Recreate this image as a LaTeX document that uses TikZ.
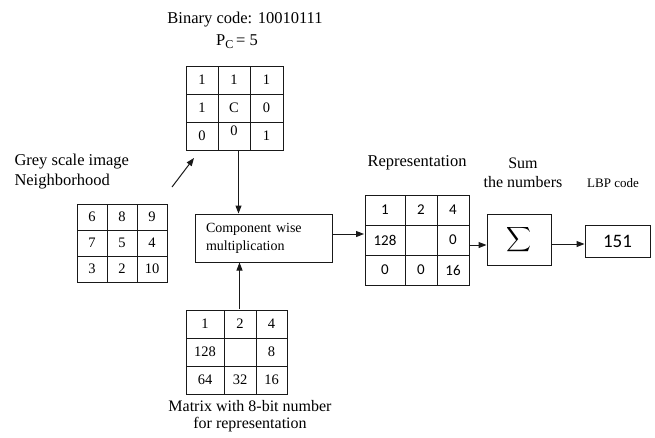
\documentclass[tikz,border=0pt]{standalone}
\usepackage{amsmath}
\usepackage{fontspec}
\setmainfont{Liberation Serif}
\newfontfamily\calfont{Carlito}
\usetikzlibrary{arrows.meta,matrix}
\definecolor{inkgrey}{RGB}{25,25,25}

\begin{document}
\begin{tikzpicture}[x=1pt, y=-1pt, line width=1pt, draw=inkgrey,
    >={Triangle[length=8pt,width=6pt]},
    lbl/.style={font=\fontsize{16.5}{20}\selectfont, inner sep=0pt, align=center},
    grid/.style={matrix of nodes, nodes in empty cells, inner sep=0pt,
      anchor=north west, column sep=-1pt, row sep=-1pt,
      nodes={draw=inkgrey, inner sep=0pt, anchor=center}},
    box/.style={draw=inkgrey, inner sep=0pt}]
    \useasboundingbox (0,0) rectangle (655,437);
    % Binary code matrix
    \node[lbl] (bincode) at (245,20) {Binary code: 10010111};
    \node[lbl] (pc) at (237,42) {P\raisebox{-3pt}{\fontsize{12}{12}\selectfont C}\,= 5};
    \matrix (topm) [grid,
      nodes={minimum height=28pt, font=\fontsize{14.5}{14.5}\selectfont},
      column 1/.style={nodes={minimum width=32pt}},
      column 2/.style={nodes={minimum width=32pt}},
      column 3/.style={nodes={minimum width=33pt}}] at (185,65) {
      1 & 1 & 1 \\
      1 & C & 0 \\
      0 & \raisebox{5pt}[\height][\depth]{0} & 1 \\
    };
    % Grey scale neighbourhood
    \node[lbl, anchor=west, align=left] (greylbl) at (14,172)
      {Grey scale image\\Neighborhood};
    \matrix (greym) [grid,
      nodes={minimum height=26pt, font=\fontsize{14.5}{14.5}\selectfont},
      column 1/.style={nodes={minimum width=30pt}},
      column 2/.style={nodes={minimum width=30pt}},
      column 3/.style={nodes={minimum width=30pt}}] at (76,203) {
      6 & 8 & 9 \\
      7 & 5 & 4 \\
      3 & 2 & 10 \\
    };
    \coordinate (dtail) at (172,187);
    \coordinate (dhead) at (194,158);
    \draw[->] (dtail) -- (dhead);
    % Component wise multiplication
    \node[box, minimum width=137pt, minimum height=48pt, text width=115pt,
      align=left, font=\fontsize{14}{18}\selectfont] (comp) at (263.5,238)
      {Component wise\\multiplication};
    % Weights matrix
    \matrix (bitm) [grid,
      nodes={minimum height=28pt, font=\fontsize{14.5}{14.5}\selectfont},
      column 1/.style={nodes={minimum width=38pt}},
      column 2/.style={nodes={minimum width=32pt}},
      column 3/.style={nodes={minimum width=31pt}}] at (185,309) {
      1 & 2 & 4 \\
      128 & & 8 \\
      64 & 32 & 16 \\
    };
    \node[lbl, font=\fontsize{16}{17}\selectfont] (bitlbl) at (250,416)
      {Matrix with 8-bit number\\for representation};
    % Representation matrix
    \node[lbl] (replbl) at (417,163) {Representation};
    \matrix (repm) [grid,
      nodes={minimum height=30pt, font=\calfont\fontsize{15}{15}\selectfont},
      column 1/.style={nodes={minimum width=40pt}},
      column 2/.style={nodes={minimum width=32pt}},
      column 3/.style={nodes={minimum width=32pt}}] at (364,194) {
      1 & 2 & 4 \\
      128 & & 0 \\
      0 & 0 & 16 \\
    };
    % Sum and LBP code
    \node[lbl, font=\fontsize{16}{19}\selectfont] (sumlbl) at (523,173)
      {Sum\\the numbers};
    \node[box, minimum width=64pt, minimum height=51pt,
      font=\fontsize{16}{16}\selectfont] (sumbox) at (519,239.5)
      {$\displaystyle\sum$};
    \node[lbl, font=\fontsize{13}{13}\selectfont] (lbplbl) at (613,183) {LBP code};
    \node[box, minimum width=65pt, minimum height=32pt,
      font=\calfont\fontsize{19}{19}\selectfont] (lbpbox) at (617.5,241) {151};
    % Connectors
    \draw[->] ([xshift=4pt]topm.south) -- ([xshift=4pt]topm.south |- comp.north);
    \draw[->] ([xshift=3pt]bitm.north) -- ([xshift=3pt]bitm.north |- comp.south);
    \draw[->] ([yshift=4pt]comp.east) -- ([yshift=4pt]comp.east -| repm.west);
    \draw[->] ([yshift=-5pt]repm.east) -- ([yshift=-5pt]repm.east -| sumbox.west);
    \draw[->] ([yshift=-4.5pt]sumbox.east) -- ([yshift=-4.5pt]sumbox.east -| lbpbox.west);
\end{tikzpicture}
\end{document}
